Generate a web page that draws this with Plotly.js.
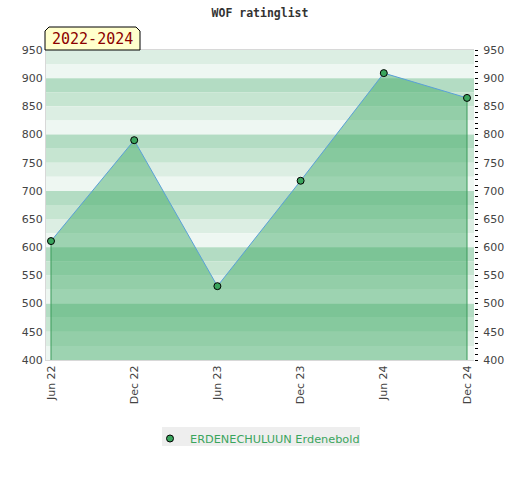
<!DOCTYPE html>
<html>
<head>
<meta charset="utf-8">
<script src="https://cdn.plot.ly/plotly-3.0.1.min.js"></script>
<style>html,body{margin:0;padding:0;background:#fff;} #chart{width:520px;height:480px;}</style>
</head>
<body>
<div id="chart"></div>
<script>
const categories = ["Jun 22", "Dec 22", "Jun 23", "Dec 23", "Jun 24", "Dec 24"];
const ratings = [611, 790, 531, 718, 909, 865];
const playerName = "ERDENECHULUUN Erdenebold";
const periodLabel = "2022-2024";
const chartTitle = "WOF ratinglist";
const yRange = [400, 950];

const bandColors = {0: "#b3dcc3", 75: "#c6e5d1", 50: "#dceee3", 25: "#eef7f2"};
const shapes = [];
for (let t = yRange[1]; t > yRange[0]; t -= 25) {
  shapes.push({type: "rect", xref: "paper", yref: "y", x0: 0, x1: 1, y0: t - 25, y1: t,
    fillcolor: bandColors[t % 100], line: {width: 0}, layer: "below"});
}
const W = 428, H = 310;
const px = v => (v - 46) / W, py = v => 1 + (50 - v) / H;
// label box with cut top corners
shapes.push({type: "path", xref: "paper", yref: "paper",
  path: `M ${px(45)} ${py(50)} L ${px(45)} ${py(31)} L ${px(49)} ${py(27)} L ${px(136)} ${py(27)} L ${px(140)} ${py(31)} L ${px(140)} ${py(50)} Z`,
  fillcolor: "#ffffcc", line: {color: "#000", width: 1}, layer: "above"});
// legend background
shapes.push({type: "rect", xref: "paper", yref: "paper", x0: px(162), x1: px(360), y0: py(446), y1: py(427),
  fillcolor: "#eeeeee", line: {width: 0}, layer: "below"});

const last = categories.length - 1;
const traces = [
  {x: categories, y: ratings, type: "scatter", mode: "lines", fill: "tozeroy",
   fillcolor: "rgba(51,165,90,0.43)", line: {color: "#5aa0d8", width: 1},
   showlegend: false, hoverinfo: "skip"},
  {x: [categories[0], categories[0]], y: [ratings[0], yRange[0]], mode: "lines",
   line: {color: "#3a9a5a", width: 1}, showlegend: false, hoverinfo: "skip"},
  {x: [categories[last], categories[last]], y: [ratings[last], yRange[0]], mode: "lines",
   line: {color: "#3a9a5a", width: 1}, showlegend: false, hoverinfo: "skip"},
  {x: categories, y: ratings, type: "scatter", mode: "markers", name: playerName,
   marker: {color: "#3aa55d", size: 7, line: {color: "#000", width: 1}}},
  {x: categories, y: ratings, type: "scatter", mode: "markers", yaxis: "y2",
   marker: {opacity: 0}, showlegend: false, hoverinfo: "skip"}
];

const tickFont = {family: "DejaVu Sans", size: 11, color: "#444"};
const layout = {
  width: 520, height: 480,
  margin: {l: 46, r: 46, t: 50, b: 120},
  paper_bgcolor: "#fff", plot_bgcolor: "#fff",
  title: {text: chartTitle, x: 0.5, xref: "container", y: 1 - 13 / 480, yref: "container",
    yanchor: "middle", font: {family: "DejaVu Sans Mono", size: 11.5, color: "#333", weight: "bold"}},
  xaxis: {type: "category", range: [-0.06, 5.084], tickangle: -90, tickfont: tickFont,
    showgrid: false, zeroline: false, showline: true, linecolor: "#d8d8d8", linewidth: 1,
    mirror: true, ticks: ""},
  yaxis: {range: yRange, dtick: 50, tickfont: tickFont, showgrid: false, zeroline: false,
    showline: true, linecolor: "#d8d8d8", ticks: "", ticklen: 0},
  yaxis2: {range: yRange, dtick: 50, overlaying: "y", side: "right", tickfont: tickFont,
    showgrid: false, zeroline: false, showline: false, ticks: "outside", ticklen: 3,
    tickcolor: "#000", tickwidth: 1, ticklabelstandoff: 3,
    minor: {dtick: 10, ticks: "outside", ticklen: 3, tickcolor: "#000", tickwidth: 1, showgrid: false}},
  shapes: shapes,
  annotations: [{text: periodLabel, xref: "paper", yref: "paper", x: px(92.5), y: py(38.5),
    xanchor: "center", yanchor: "middle", showarrow: false,
    font: {family: "DejaVu Sans Mono", size: 15, color: "#8b0000"}}],
  legend: {orientation: "h", x: px(150), xanchor: "left", y: py(424), yanchor: "top",
    itemwidth: 30, bgcolor: "rgba(0,0,0,0)",
    font: {family: "DejaVu Sans", size: 11.3, color: "#3aa55d"}},
  hovermode: false
};
Plotly.newPlot("chart", traces, layout, {displayModeBar: false, staticPlot: true});
</script>
</body>
</html>
